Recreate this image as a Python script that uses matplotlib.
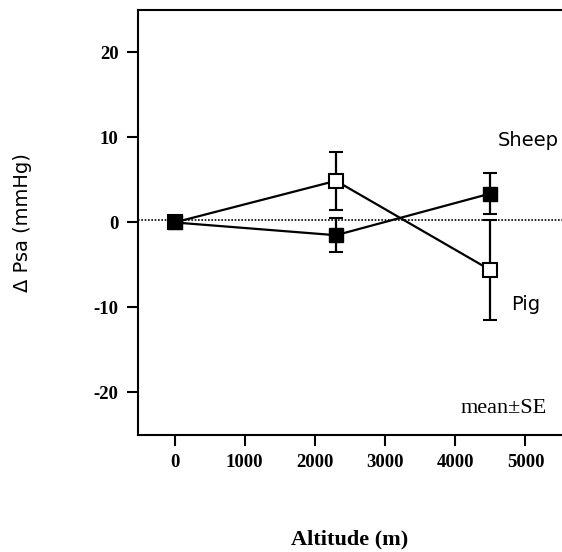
import numpy as np
import matplotlib.pyplot as plt

plt.rcParams['axes.unicode_minus'] = False

altitude = [0, 2300, 4500]
sheep = [0.0, -1.5, 3.4]
sheep_se = [0.0, 2.0, 2.4]
pig = [0.0, 4.9, -5.6]
pig_se = [0.0, 3.4, 5.9]
baseline = 0.3

fig = plt.figure(figsize=(5.62, 5.52), dpi=100)
ax = fig.add_axes([0.2456, 0.212, 0.7544, 0.770])

ax.axhline(baseline, c="k", ls=(0, (1, 1)), lw=1.2, zorder=1)

ax.errorbar(altitude, pig, yerr=pig_se, c="k", lw=1.6, marker="s", ms=10,
            mfc="white", mec="k", mew=1.5, capsize=5, capthick=1.5, zorder=3)
ax.errorbar(altitude, sheep, yerr=sheep_se, c="k", lw=1.6, marker="s", ms=10,
            mfc="k", mec="k", capsize=5, capthick=1.5, zorder=4)

ax.text(4600, 9.6, "Sheep", fontsize=14, family="DejaVu Sans", ha="left", va="center")
ax.text(4800, -9.7, "Pig", fontsize=14, family="DejaVu Sans", ha="left", va="center")
ax.text(5300, -21.9, "mean\u00b1SE", fontsize=16, family="Liberation Serif", ha="right", va="center")

ax.set_xlim(-520, 5520)
ax.set_ylim(-25, 25)
ax.set_xticks([0, 1000, 2000, 3000, 4000, 5000])
ax.set_yticks([-20, -10, 0, 10, 20])

for s in ["left", "bottom", "top"]:
    ax.spines[s].set_linewidth(1.5)
ax.spines["right"].set_visible(False)

ax.tick_params(direction="out", length=8, width=1.5, labelsize=13.5, pad=6)
for lbl in ax.get_xticklabels() + ax.get_yticklabels():
    lbl.set_family("Liberation Serif")
    lbl.set_fontweight("bold")

ax.set_xlabel("Altitude (m)", family="Liberation Serif", fontweight="bold",
              fontsize=16, labelpad=42)
ax.set_ylabel("\u0394 Psa (mmHg)", family="DejaVu Sans", fontsize=14, labelpad=44)

fig.savefig("out.png", dpi=100)
